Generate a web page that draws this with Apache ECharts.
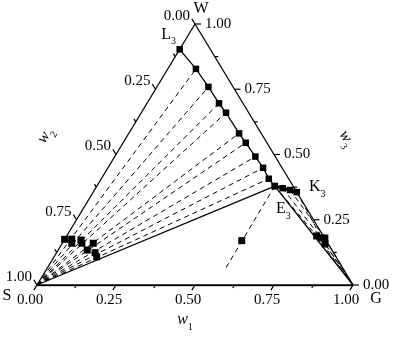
<!DOCTYPE html>
<html><head><meta charset="utf-8">
<script src="https://cdn.jsdelivr.net/npm/echarts/dist/echarts.min.js"></script>
<style>html,body{margin:0;padding:0;background:#fff}#c{width:407px;height:342px}</style>
</head><body><div id="c"></div>
<script>
// Ternary data, each point given as w1 (G fraction) and w3 (W fraction); w2 = 1 - w1 - w3
const tickValues = [0, 0.25, 0.5, 0.75, 1];
const tickLabels = ['0.00', '0.25', '0.50', '0.75', '1.00'];
const minorTickValues = [0.125, 0.375, 0.625, 0.875];
const vertexNames = ['S', 'G', 'W'];
const vertexW1 = [0, 1, 0];
const vertexW3 = [0, 0, 1];
// binodal branch L3 -> E3
const binodalW1 = [0.000, 0.089, 0.163, 0.228, 0.268, 0.349, 0.388, 0.445, 0.491, 0.530, 0.563];
const binodalW3 = [0.903, 0.828, 0.759, 0.696, 0.660, 0.581, 0.545, 0.492, 0.449, 0.407, 0.379];
// branch E3 -> K3
const ekW1 = [0.563, 0.592, 0.619, 0.644];
const ekW3 = [0.379, 0.371, 0.364, 0.356];
// S-rich phase points
const sRichW1 = [0.000, 0.022, 0.030, 0.053, 0.062, 0.098, 0.092, 0.122, 0.135];
const sRichW3 = [0.175, 0.176, 0.160, 0.172, 0.160, 0.160, 0.134, 0.124, 0.108];
// G-rich phase points
const gRichW1 = [0.791, 0.809, 0.821, 0.833];
const gRichW3 = [0.188, 0.180, 0.180, 0.157];
// constant-w1 dashed line through a single point (E3 -> point -> end)
const isoW1 = [0.563, 0.563, 0.565];
const isoW3 = [0.379, 0.170, 0.059];
const pointLabelNames = ['L', 'E', 'K'];
const pointLabelSub = ['3', '3', '3'];
const axisTitleNames = ['w', 'w', 'w'];
const axisTitleSub = ['1', '2', '3'];

function tern(w1, w3) { return [w1 + w3 / 2, w3]; }
const FONT = "'Liberation Serif','Times New Roman',serif";
const BLACK = '#000';

const S = tern(vertexW1[0], vertexW3[0]);
const G = tern(vertexW1[1], vertexW3[1]);
const W = tern(vertexW1[2], vertexW3[2]);
const binodal = binodalW1.map((w, i) => tern(w, binodalW3[i]));
const ek = ekW1.map((w, i) => tern(w, ekW3[i]));
const sRich = sRichW1.map((w, i) => tern(w, sRichW3[i]));
const gRich = gRichW1.map((w, i) => tern(w, gRichW3[i]));
const iso = isoW1.map((w, i) => tern(w, isoW3[i]));

function linesSeries(segs, width, dash, z) {
  return {
    type: 'lines', coordinateSystem: 'cartesian2d', polyline: false, silent: true, z: z || 2,
    data: segs.map(s => ({ coords: s })),
    lineStyle: { color: BLACK, width: width, type: dash ? [5, 4] : 'solid', opacity: 1, curveness: 0 }
  };
}

const dashedSegs = [];
for (let i = 1; i < binodal.length - 1; i++) dashedSegs.push([S, binodal[i]]);
for (let i = 0; i < ek.length; i++) { dashedSegs.push([ek[i], gRich[i]]); dashedSegs.push([gRich[i], G]); }
dashedSegs.push([iso[0], iso[2]]);

const solidSegs = [[S, W], [W, G], [S, binodal[binodal.length - 1]], [ek[0], G]];

function dirFor(axis) {
  if (axis === 'b') return [-0.518, 0.856];
  if (axis === 'l') return [-0.518, -0.856];
  return [1, 0];
}
function basePt(axis, v) {
  if (axis === 'b') return tern(v, 0);
  if (axis === 'l') return tern(0, 1 - v);
  return tern(1 - v, v);
}
function tickSeries(axis, values, major) {
  return {
    type: 'custom', coordinateSystem: 'cartesian2d', silent: true, z: 5,
    data: values.map(v => [v, 0]),
    renderItem: (p, api) => {
      const v = values[p.dataIndex];
      const c = api.coord(basePt(axis, v));
      const d = dirFor(axis);
      const L = major ? 6 : 3.5;
      const children = [{
        type: 'line',
        shape: { x1: c[0], y1: c[1], x2: c[0] + d[0] * L, y2: c[1] + d[1] * L },
        style: { stroke: BLACK, lineWidth: 1.2 }
      }];
      if (major) {
        const lab = tickLabels[p.dataIndex];
        let x, y, align;
        if (axis === 'b') { x = c[0] - 7; y = c[1] + 15; align = 'center'; }
        else if (axis === 'l') { x = c[0] - 5; y = c[1] - 8; align = 'right'; }
        else { x = c[0] + 10; y = c[1]; align = 'left'; }
        children.push({
          type: 'text', x: x, y: y,
          style: { text: lab, fill: BLACK, fontSize: 15, fontFamily: FONT, align: align, verticalAlign: 'middle' }
        });
      }
      return { type: 'group', children: children };
    }
  };
}

function subRich(size) {
  return {
    m: { fontSize: size, fontFamily: FONT, fill: BLACK, lineHeight: 20, verticalAlign: 'top' },
    mi: { fontSize: size, fontFamily: FONT, fontStyle: 'italic', fill: BLACK, lineHeight: 20, verticalAlign: 'top' },
    s: { fontSize: 10, fontFamily: FONT, fill: BLACK, lineHeight: 8, verticalAlign: 'bottom' }
  };
}

// text anchors: [data point, pixel offset, text, rotation]
const labelItems = [
  { pt: S, off: [-30, 11], text: vertexNames[0] },
  { pt: G, off: [23, 14], text: vertexNames[1] },
  { pt: W, off: [6, -15], text: vertexNames[2] },
  { pt: binodal[0], off: [-11, -13], text: '{m|' + pointLabelNames[0] + '}{s|' + pointLabelSub[0] + '}' },
  { pt: binodal[binodal.length - 1], off: [8.5, 25], text: '{m|' + pointLabelNames[1] + '}{s|' + pointLabelSub[1] + '}' },
  { pt: ek[ek.length - 1], off: [20.5, -3], text: '{m|' + pointLabelNames[2] + '}{s|' + pointLabelSub[2] + '}' },
  { pt: tern(0.5, 0), off: [-10, 37], text: '{mi|' + axisTitleNames[0] + '}{s|' + axisTitleSub[0] + '}' },
  { pt: tern(0, 0.5), off: [-69, -18], text: '{mi|' + axisTitleNames[1] + '}{s|' + axisTitleSub[1] + '}', rot: 58.8 },
  { pt: tern(0.5, 0.5), off: [71, -15], text: '{mi|' + axisTitleNames[2] + '}{s|' + axisTitleSub[2] + '}', rot: -58.8 }
];

const labelSeries = {
  type: 'custom', coordinateSystem: 'cartesian2d', silent: true, z: 6,
  data: labelItems.map(() => [0, 0]),
  renderItem: (p, api) => {
    const it = labelItems[p.dataIndex];
    const c = api.coord(it.pt);
    return {
      type: 'text', x: c[0] + it.off[0], y: c[1] + it.off[1],
      rotation: (it.rot || 0) * Math.PI / 180,
      style: { text: it.text, rich: subRich(16), fill: BLACK, fontSize: 16, fontFamily: FONT, align: 'center', verticalAlign: 'middle' }
    };
  }
};

const markerStyle = { color: BLACK, opacity: 1 };
const chart = echarts.init(document.getElementById('c'), null, { renderer: 'canvas' });
chart.setOption({
  animation: false,
  backgroundColor: '#fff',
  grid: { left: 37, right: 54, top: 24, bottom: 57, containLabel: false },
  xAxis: { type: 'value', min: 0, max: 1, show: false },
  yAxis: { type: 'value', min: 0, max: 1, show: false },
  series: [
    linesSeries(dashedSegs, 1, true, 1),
    linesSeries(solidSegs, 1.3, false, 2),
    linesSeries([[S, G]], 2.6, false, 2),
    tickSeries('b', tickValues, true),
    tickSeries('b', minorTickValues, false),
    tickSeries('l', tickValues, true),
    tickSeries('l', minorTickValues, false),
    tickSeries('r', tickValues, true),
    tickSeries('r', minorTickValues, false),
    { type: 'line', data: binodal, symbol: 'rect', symbolSize: 6.5, showSymbol: true, silent: true, z: 3,
      lineStyle: { color: BLACK, width: 1.3 }, itemStyle: markerStyle },
    { type: 'line', data: ek, symbol: 'rect', symbolSize: 6.5, showSymbol: true, silent: true, z: 3,
      lineStyle: { color: BLACK, width: 3 }, itemStyle: markerStyle },
    { type: 'scatter', data: sRich, symbol: 'rect', symbolSize: 7, silent: true, z: 4, itemStyle: markerStyle },
    { type: 'scatter', data: gRich, symbol: 'rect', symbolSize: 7, silent: true, z: 4, itemStyle: markerStyle },
    { type: 'scatter', data: [iso[1]], symbol: 'rect', symbolSize: 7, silent: true, z: 4, itemStyle: markerStyle },
    labelSeries
  ]
});
</script></body></html>
